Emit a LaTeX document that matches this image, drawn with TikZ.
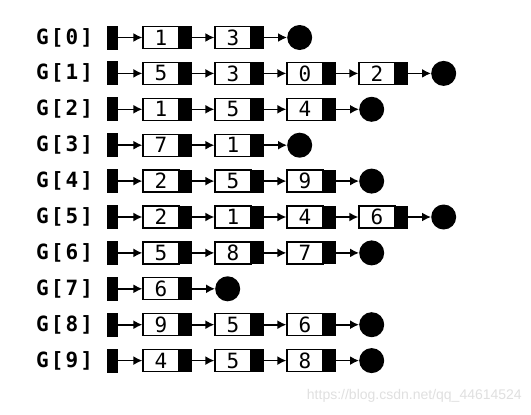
\documentclass[tikz,border=0pt]{standalone}
\usepackage{fontspec}
\setmainfont{DejaVu Sans}
\newfontfamily\lblfont{DejaVu Sans Mono Bold}[LetterSpace=10]
\newfontfamily\digfont{DejaVu Sans Mono}
\newfontfamily\wmfont{Liberation Sans}
\usetikzlibrary{arrows.meta}
\definecolor{wmgray}{HTML}{E0E0E0}
\begin{document}
\begin{tikzpicture}[x=1pt,y=-1pt,
  lbl/.style={font=\lblfont\fontsize{21}{21}\selectfont, anchor=west, inner sep=0},
  headblk/.style={fill=black, minimum width=11pt, minimum height=24pt, inner sep=0},
  valbox/.style={draw=black, line width=1.3pt, fill=white, minimum width=36pt, minimum height=22pt, inner sep=0, font=\digfont\fontsize{21}{21}\selectfont},
  ptrblk/.style={fill=black, minimum width=12pt, minimum height=23pt, inner sep=0, anchor=west},
  nilc/.style={circle, fill=black, minimum size=25pt, inner sep=0, anchor=west},
  link/.style={-{Latex[length=9pt,width=9pt]}, line width=1.6pt},
  wm/.style={font=\wmfont\fontsize{14}{14}\selectfont, text=wmgray, anchor=east, inner sep=0}]
\useasboundingbox (0,0) rectangle (531,415);
\fill[white] (0,0) rectangle (531,415);
\foreach \i/\n/\lst in {0/2/{1,3},1/4/{5,3,0,2},2/3/{1,5,4},3/2/{7,1},4/3/{2,5,9},5/4/{2,1,4,6},6/3/{5,8,7},7/1/{6},8/3/{9,5,6},9/3/{4,5,8}}{
  \pgfmathsetmacro\y{37.5+35.9*\i}
  \node[lbl] (g\i) at (36,\y) {G[\i]};
  \node[headblk, alias=p\i-0] (h\i) at (112.5,\y) {};
  \foreach \v [count=\k from 1, evaluate=\k as \pk using int(\k-1)] in \lst {
    \node[valbox] (v\i-\k) at (161+72*\k-72,\y) {\v};
    \node[ptrblk] (p\i-\k) at (v\i-\k.east) {};
    \draw[link] (p\i-\pk.east) -- (v\i-\k.west);
  }
  \node[nilc] (n\i) at (143+72*\n,\y) {};
  \draw[link] (p\i-\n.east) -- (n\i.west);
}
\node[wm] (wm) at (522,396) {https://blog.csdn.net/qq\_44614524};
\end{tikzpicture}
\end{document}
